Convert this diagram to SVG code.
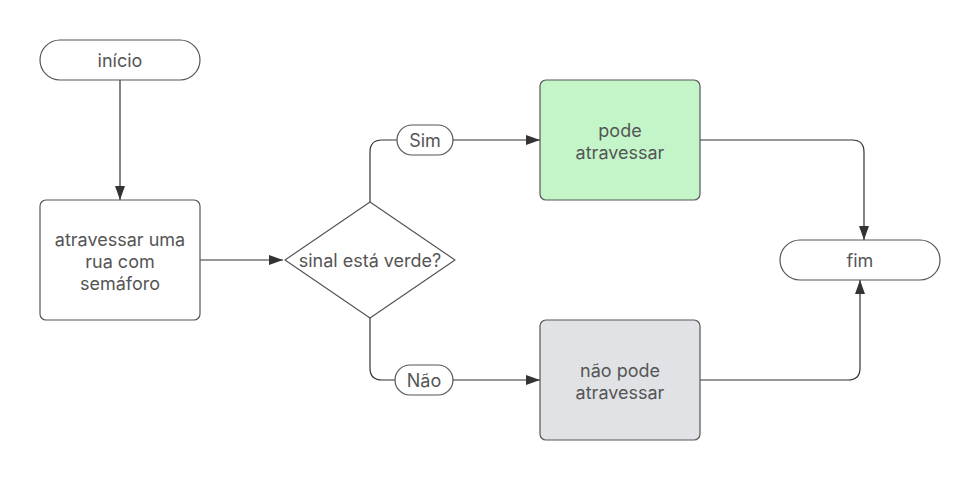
<svg xmlns="http://www.w3.org/2000/svg" width="980" height="480" viewBox="0 0 980 480">
<defs>
<marker id="arr" viewBox="0 0 14 10" refX="14" refY="5" markerWidth="14" markerHeight="10" markerUnits="userSpaceOnUse" orient="auto">
<path d="M0,0 L14,5 L0,10 Z" fill="#333"/>
</marker>
<style>
.shape{stroke:#555;stroke-width:1.2;fill:#fff}
.lbl{font-family:Inter,"Liberation Sans",sans-serif;font-size:18px;fill:#555;text-anchor:middle;dominant-baseline:central}
.edge{fill:none;stroke:#333;stroke-width:1.2}
</style>
</defs>
<rect width="980" height="480" fill="#fff"/>
<g id="connectors">
<path class="edge" d="M120,80 L120,200" marker-end="url(#arr)"/>
<path class="edge" d="M200,260 L283,260" marker-end="url(#arr)"/>
<path class="edge" d="M370,202 L370,152 Q370,140 382,140 L397,140"/>
<path class="edge" d="M453,140 L540,140" marker-end="url(#arr)"/>
<path class="edge" d="M370,318 L370,368 Q370,380 382,380 L395,380"/>
<path class="edge" d="M453,380 L540,380" marker-end="url(#arr)"/>
<path class="edge" d="M700,140 L852,140 Q864,140 864,152 L864,240" marker-end="url(#arr)"/>
<path class="edge" d="M700,380 L848,380 Q860,380 860,368 L860,280" marker-end="url(#arr)"/>
</g>
<g id="inicio">
<rect class="shape" x="40" y="40" width="160" height="40" rx="20"/>
<text class="lbl" x="120" y="60">início</text>
</g>
<g id="atravessar">
<rect class="shape" x="40" y="200" width="160" height="120" rx="6"/>
<text class="lbl" x="120" y="239">atravessar uma</text>
<text class="lbl" x="120" y="261">rua com</text>
<text class="lbl" x="120" y="283">semáforo</text>
</g>
<g id="decisao">
<path class="shape" d="M370,202 L455,260 L370,318 L285,260 Z" stroke-linejoin="round"/>
<text class="lbl" x="370" y="260">sinal está verde?</text>
</g>
<g id="sim">
<rect class="shape" x="397" y="125" width="56" height="30" rx="15"/>
<text class="lbl" x="425" y="140">Sim</text>
</g>
<g id="nao">
<rect class="shape" x="395" y="365" width="58" height="30" rx="15"/>
<text class="lbl" x="424" y="380">Não</text>
</g>
<g id="pode">
<rect class="shape" x="540" y="80" width="160" height="120" rx="6" style="fill:#c3f5c9"/>
<text class="lbl" x="620" y="130">pode</text>
<text class="lbl" x="620" y="152">atravessar</text>
</g>
<g id="naopode">
<rect class="shape" x="540" y="320" width="160" height="120" rx="6" style="fill:#e0e2e6"/>
<text class="lbl" x="620" y="370">não pode</text>
<text class="lbl" x="620" y="392">atravessar</text>
</g>
<g id="fim">
<rect class="shape" x="780" y="240" width="160" height="40" rx="20"/>
<text class="lbl" x="860" y="260">fim</text>
</g>
</svg>
